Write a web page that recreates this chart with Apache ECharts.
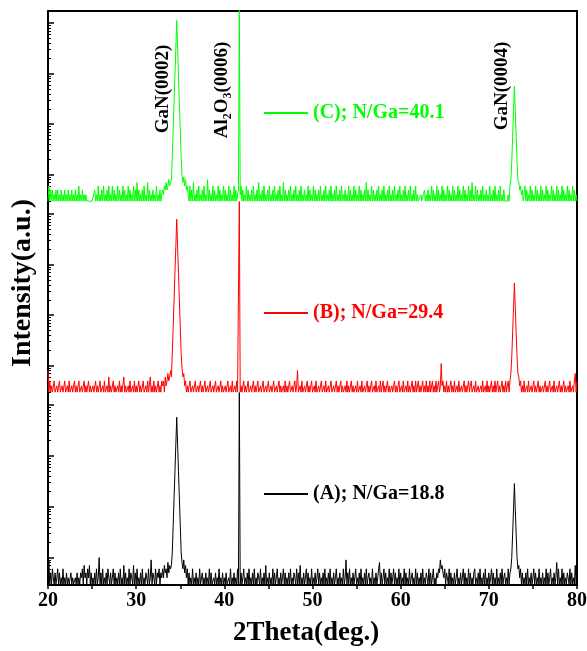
<!DOCTYPE html>
<html>
<head>
<meta charset="utf-8">
<script src="https://cdn.jsdelivr.net/npm/echarts@6/dist/echarts.min.js"></script>
<style>
html, body { margin: 0; padding: 0; background: #fff; }
#chart { width: 587px; height: 651px; }
</style>
</head>
<body>
<div id="chart"></div>
<script>
'use strict';
// 2Theta sampling: 20.0 .. 80.0, step 0.1 deg
const thetaStart = 20;
const thetaStep = 0.1;
const xTicks = [20, 30, 40, 50, 60, 70, 80];

// intensity counts (a.u.), one line = 1 deg
const countsA = [
    5, 9, 3, 5, 3, 6, 4, 3, 5, 3,
    4, 6, 3, 5, 3, 4, 3, 6, 3, 4,
    3, 5, 3, 4, 3, 3, 5, 3, 4, 3,
    3, 4, 3, 5, 3, 4, 3, 5, 4, 6,
    3, 7, 4, 5, 3, 6, 4, 7, 3, 5,
    3, 4, 3, 5, 3, 6, 3, 4, 10, 3,
    5, 3, 6, 3, 4, 3, 5, 3, 6, 4,
    3, 5, 3, 4, 6, 3, 5, 3, 4, 3,
    5, 3, 6, 3, 4, 3, 7, 3, 5, 3,
    4, 3, 6, 3, 5, 4, 3, 7, 3, 5,
    3, 6, 3, 4, 3, 5, 3, 6, 3, 4,
    3, 5, 4, 3, 6, 3, 4, 9, 3, 5,
    4, 3, 6, 3, 5, 4, 6, 3, 5, 4,
    6, 4, 7, 5, 6, 4, 8, 5, 7, 6,
    7, 13, 44, 150, 500, 1700, 5800, 1700, 500, 150,
    44, 13, 8, 6, 9, 5, 7, 4, 6, 3,
    5, 3, 4, 3, 6, 3, 4, 3, 5, 3,
    4, 3, 6, 3, 3, 5, 3, 4, 3, 5,
    3, 4, 3, 6, 3, 5, 3, 3, 4, 3,
    5, 3, 4, 3, 6, 3, 4, 3, 5, 3,
    4, 3, 5, 3, 3, 4, 3, 6, 3, 4,
    3, 5, 3, 4, 3, 6, 3, 20000, 3, 5,
    3, 4, 6, 3, 4, 3, 5, 3, 6, 3,
    4, 3, 5, 3, 6, 3, 4, 3, 5, 4,
    3, 6, 3, 4, 3, 5, 3, 7, 3, 4,
    3, 5, 3, 4, 3, 6, 3, 5, 3, 4,
    6, 3, 4, 3, 5, 3, 4, 6, 3, 5,
    3, 4, 3, 5, 3, 6, 3, 4, 3, 5,
    4, 3, 6, 3, 5, 3, 7, 3, 4, 3,
    5, 3, 4, 6, 3, 5, 3, 4, 3, 6,
    3, 4, 3, 5, 3, 4, 6, 3, 5, 3,
    4, 3, 5, 3, 6, 3, 4, 3, 5, 3,
    6, 3, 4, 3, 5, 3, 4, 6, 3, 4,
    3, 5, 3, 4, 3, 6, 3, 4, 9, 3,
    5, 3, 6, 3, 4, 3, 5, 3, 4, 6,
    3, 4, 3, 5, 3, 6, 3, 4, 3, 5,
    3, 6, 3, 4, 5, 3, 4, 3, 6, 3,
    4, 3, 5, 3, 4, 6, 8, 3, 5, 3,
    4, 6, 3, 5, 3, 4, 3, 6, 3, 5,
    3, 4, 6, 3, 5, 3, 4, 3, 6, 3,
    5, 3, 4, 3, 6, 3, 5, 3, 4, 3,
    6, 3, 4, 5, 3, 4, 3, 6, 3, 5,
    3, 4, 3, 5, 3, 6, 3, 4, 3, 5,
    4, 3, 6, 3, 5, 3, 4, 6, 3, 4,
    3, 5, 4, 6, 5, 9, 6, 7, 5, 4,
    6, 3, 5, 4, 3, 6, 3, 5, 3, 4,
    3, 5, 3, 4, 6, 3, 4, 3, 5, 3,
    4, 6, 3, 5, 3, 4, 3, 6, 3, 5,
    3, 4, 3, 5, 6, 3, 4, 3, 5, 3,
    6, 3, 4, 3, 5, 3, 6, 3, 4, 3,
    5, 3, 4, 6, 3, 5, 3, 4, 3, 6,
    3, 4, 3, 5, 3, 6, 3, 4, 5, 3,
    4, 3, 6, 3, 5, 6, 10, 29, 90, 286,
    90, 29, 10, 6, 7, 4, 6, 3, 5, 3,
    4, 3, 5, 3, 6, 3, 4, 3, 5, 3,
    4, 6, 3, 5, 3, 4, 3, 6, 3, 4,
    3, 5, 3, 4, 3, 6, 3, 5, 3, 4,
    6, 3, 4, 3, 5, 3, 4, 8, 3, 6,
    3, 4, 3, 6, 3, 5, 3, 4, 3, 5,
    4, 3, 6, 3, 5, 3, 4, 3, 7, 3,
    6
];
const countsB = [
    8, 3, 5, 3, 4, 3, 3, 5, 3, 3,
    4, 3, 3, 5, 3, 3, 4, 3, 3, 5,
    3, 3, 4, 3, 5, 3, 3, 4, 3, 3,
    5, 3, 4, 3, 3, 5, 3, 3, 4, 3,
    3, 5, 3, 4, 3, 3, 5, 3, 4, 3,
    3, 4, 3, 3, 5, 3, 4, 3, 3, 5,
    3, 3, 4, 3, 5, 3, 3, 4, 3, 6,
    3, 4, 3, 3, 5, 3, 4, 3, 3, 4,
    3, 5, 3, 4, 3, 3, 6, 3, 4, 3,
    3, 4, 3, 5, 3, 3, 4, 3, 5, 3,
    4, 3, 3, 5, 3, 4, 3, 3, 5, 3,
    3, 4, 3, 5, 3, 3, 6, 3, 4, 3,
    5, 3, 4, 3, 3, 5, 3, 4, 3, 5,
    4, 5, 3, 6, 4, 5, 7, 5, 6, 8,
    6, 18, 60, 200, 700, 2300, 7950, 2300, 700, 200,
    60, 18, 9, 6, 7, 4, 5, 3, 4, 3,
    3, 5, 3, 3, 4, 3, 3, 5, 3, 3,
    4, 3, 3, 5, 3, 4, 3, 3, 5, 3,
    3, 4, 3, 3, 5, 3, 3, 4, 3, 3,
    5, 3, 3, 4, 3, 3, 5, 3, 4, 3,
    3, 4, 3, 3, 5, 3, 3, 4, 3, 5,
    3, 3, 4, 3, 5, 3, 3, 20000, 3, 4,
    3, 3, 5, 3, 4, 3, 3, 5, 3, 3,
    4, 3, 3, 5, 3, 4, 3, 3, 5, 3,
    3, 4, 3, 3, 5, 3, 3, 4, 3, 3,
    5, 3, 3, 4, 3, 3, 5, 3, 3, 4,
    3, 3, 5, 3, 4, 3, 3, 4, 3, 5,
    3, 4, 3, 3, 5, 3, 3, 4, 3, 3,
    5, 3, 4, 8, 3, 3, 4, 3, 5, 3,
    3, 4, 3, 3, 5, 3, 4, 3, 3, 5,
    3, 3, 4, 3, 5, 3, 3, 4, 3, 3,
    5, 3, 3, 4, 3, 5, 3, 3, 4, 3,
    3, 5, 3, 3, 4, 3, 3, 5, 3, 4,
    3, 3, 5, 3, 4, 3, 3, 4, 3, 5,
    3, 4, 3, 3, 5, 3, 4, 3, 3, 4,
    3, 5, 3, 3, 4, 3, 5, 3, 3, 4,
    3, 3, 5, 3, 4, 3, 3, 5, 3, 3,
    4, 3, 5, 3, 3, 4, 3, 5, 3, 3,
    5, 3, 4, 3, 3, 5, 3, 4, 3, 3,
    4, 3, 3, 5, 3, 4, 3, 3, 5, 3,
    3, 4, 3, 5, 3, 3, 4, 3, 5, 3,
    4, 3, 3, 5, 3, 4, 3, 5, 3, 3,
    5, 3, 4, 3, 3, 5, 3, 4, 3, 5,
    3, 4, 3, 5, 3, 3, 5, 3, 4, 3,
    5, 3, 4, 5, 3, 4, 11, 4, 5, 3,
    4, 3, 5, 3, 4, 3, 3, 5, 3, 4,
    3, 5, 3, 3, 4, 3, 5, 3, 3, 4,
    3, 3, 5, 3, 4, 3, 3, 5, 3, 4,
    5, 3, 3, 4, 3, 5, 3, 3, 4, 3,
    3, 4, 3, 5, 3, 3, 4, 3, 5, 3,
    4, 3, 3, 5, 3, 4, 3, 5, 3, 3,
    5, 3, 4, 3, 3, 5, 3, 4, 3, 5,
    3, 4, 5, 3, 5, 7, 15, 45, 140, 432,
    140, 45, 15, 7, 6, 4, 5, 3, 4, 3,
    5, 3, 3, 4, 3, 5, 3, 3, 4, 3,
    3, 5, 3, 4, 3, 3, 5, 3, 4, 3,
    3, 4, 3, 3, 5, 3, 4, 3, 3, 5,
    3, 3, 4, 3, 5, 3, 3, 4, 3, 3,
    5, 3, 4, 3, 3, 5, 3, 4, 3, 3,
    4, 3, 5, 3, 3, 4, 3, 5, 7, 3,
    5
];
const countsC = [
    3, 6, 3, 5, 3, 5, 3, 4, 3, 5,
    3, 5, 3, 4, 3, 5, 3, 4, 3, 5,
    3, 4, 3, 5, 3, 4, 3, 5, 3, 4,
    3, 5, 3, 4, 3, 6, 3, 4, 3, 5,
    3, 4, 3, 4, 3, 3, 3, 3, 3, 3,
    3, 3, 3, 5, 3, 4, 3, 6, 3, 4,
    3, 5, 3, 6, 3, 4, 3, 5, 3, 6,
    3, 4, 3, 6, 3, 5, 3, 4, 3, 6,
    3, 5, 3, 4, 3, 6, 3, 5, 3, 4,
    3, 6, 3, 5, 3, 4, 3, 6, 3, 5,
    3, 7, 3, 5, 3, 4, 3, 5, 3, 6,
    3, 4, 3, 7, 3, 5, 3, 4, 3, 5,
    3, 4, 3, 6, 3, 4, 3, 5, 3, 4,
    5, 4, 6, 5, 7, 5, 6, 8, 6, 7,
    8, 24, 80, 275, 930, 3200, 11350, 3200, 930, 275,
    80, 24, 10, 7, 9, 6, 8, 5, 6, 4,
    3, 6, 3, 5, 3, 7, 3, 4, 3, 5,
    3, 6, 3, 4, 3, 5, 3, 6, 3, 4,
    3, 8, 3, 5, 3, 4, 3, 6, 3, 5,
    3, 4, 3, 6, 3, 5, 3, 4, 3, 6,
    3, 5, 3, 4, 3, 6, 3, 5, 3, 4,
    3, 6, 3, 5, 3, 4, 5, 20000, 4, 6,
    3, 5, 3, 4, 3, 6, 3, 5, 3, 4,
    3, 5, 3, 6, 3, 4, 3, 5, 3, 7,
    3, 4, 3, 5, 3, 6, 3, 4, 3, 5,
    3, 6, 3, 4, 3, 5, 3, 6, 3, 4,
    3, 5, 3, 6, 3, 4, 3, 7, 3, 5,
    3, 4, 3, 5, 3, 6, 3, 4, 3, 5,
    3, 6, 3, 4, 3, 5, 3, 6, 3, 4,
    3, 5, 3, 4, 3, 6, 3, 5, 3, 4,
    3, 6, 3, 5, 3, 4, 3, 5, 3, 6,
    3, 4, 3, 5, 3, 6, 3, 4, 3, 5,
    3, 6, 3, 4, 3, 5, 3, 6, 3, 4,
    3, 5, 3, 6, 3, 4, 3, 5, 3, 4,
    3, 6, 3, 5, 3, 4, 3, 6, 3, 5,
    3, 4, 3, 6, 3, 5, 3, 4, 3, 5,
    3, 7, 3, 5, 3, 4, 3, 6, 3, 5,
    3, 4, 3, 5, 3, 6, 3, 4, 3, 5,
    3, 6, 3, 4, 3, 5, 3, 6, 3, 4,
    3, 5, 3, 6, 3, 4, 3, 5, 3, 6,
    3, 4, 3, 5, 3, 6, 3, 4, 3, 5,
    3, 6, 3, 4, 3, 5, 3, 6, 3, 4,
    3, 3, 3, 4, 3, 3, 3, 5, 3, 4,
    3, 5, 3, 4, 3, 6, 3, 5, 3, 4,
    3, 6, 3, 5, 3, 4, 3, 6, 3, 5,
    3, 4, 3, 6, 3, 5, 3, 4, 3, 6,
    3, 5, 3, 4, 3, 6, 3, 5, 3, 4,
    3, 6, 3, 5, 3, 4, 3, 6, 3, 5,
    3, 7, 3, 4, 3, 6, 3, 5, 3, 4,
    3, 5, 3, 6, 3, 4, 3, 5, 3, 4,
    3, 6, 3, 4, 3, 5, 3, 6, 3, 4,
    3, 5, 3, 6, 3, 4, 3, 5, 3, 3,
    3, 3, 4, 3, 6, 8, 18, 57, 180, 570,
    180, 57, 18, 8, 7, 5, 6, 4, 5, 3,
    3, 6, 3, 5, 3, 4, 3, 6, 3, 5,
    3, 4, 3, 6, 3, 5, 3, 4, 3, 6,
    3, 5, 3, 4, 3, 6, 3, 5, 3, 4,
    3, 6, 3, 5, 3, 4, 3, 6, 3, 5,
    3, 4, 3, 6, 3, 5, 3, 4, 3, 6,
    3, 5, 3, 4, 3, 6, 3, 5, 3, 4,
    3
];

const seriesNames = ['(C); N/Ga=40.1', '(B); N/Ga=29.4', '(A); N/Ga=18.8'];
const seriesColors = ['#00ff00', '#ff0000', '#000000'];
const seriesCounts = [countsC, countsB, countsA];

// log10 decades shown on each panel
const majorDecades = [1, 2, 3, 4];
const minorFactors = [2, 3, 4, 5, 6, 7, 8, 9];
const logMin = 0.46;
const logMax = 4.24;

const FONT = '"Liberation Serif", "Times New Roman", serif';

function init() {
    const chart = echarts.init(document.getElementById('chart'), null, { renderer: 'canvas' });

    const minorValues = [];
    [0, 1, 2, 3, 4].forEach((d) => {
        minorFactors.forEach((f) => {
            const v = Math.log10(f * Math.pow(10, d));
            if (v > logMin && v < logMax) minorValues.push(v);
        });
    });

    // three stacked panels, no gap; outerBoundsMode off so the "80" label does not shrink the last one
    const grids = [
        { left: 48, right: 10, top: 11, height: 191, outerBoundsMode: 'none' },
        { left: 48, right: 10, top: 202, height: 191, outerBoundsMode: 'none' },
        { left: 48, right: 10, top: 393, height: 192, outerBoundsMode: 'none' },
    ];

    const axisLine = { show: true, lineStyle: { color: '#000', width: 2 } };

    const xAxis = [
        {
            gridIndex: 0, type: 'value', min: 20, max: 80, interval: 10, position: 'top',
            axisLine: axisLine, axisTick: { show: false }, axisLabel: { show: false }, splitLine: { show: false },
        },
        {
            gridIndex: 1, type: 'value', min: 20, max: 80, interval: 10, show: false,
        },
        {
            gridIndex: 2, type: 'value', min: 20, max: 80, interval: 10, position: 'bottom',
            axisLine: axisLine,
            axisTick: { inside: false, length: 4, lineStyle: { color: '#000', width: 1.5 } },
            minorTick: { show: true, splitNumber: 2, length: 4, lineStyle: { color: '#000', width: 1.5 } },
            axisLabel: {
                margin: 6, color: '#000', fontSize: 20, fontWeight: 'bold', fontFamily: FONT,
                customValues: xTicks,
            },
            splitLine: { show: false },
        },
    ];

    const yAxis = [];
    grids.forEach((g, i) => {
        // major ticks + axis line
        yAxis.push({
            gridIndex: i, type: 'value', min: logMin, max: logMax, position: 'left',
            axisLine: axisLine,
            axisTick: { inside: true, length: 6, customValues: majorDecades, lineStyle: { color: '#000', width: 1.5 } },
            axisLabel: { show: false }, splitLine: { show: false },
        });
        // log minor ticks
        yAxis.push({
            gridIndex: i, type: 'value', min: logMin, max: logMax, position: 'left',
            axisLine: { show: false },
            axisTick: { inside: true, length: 3, customValues: minorValues, lineStyle: { color: '#000', width: 1 } },
            axisLabel: { show: false }, splitLine: { show: false },
        });
        // right frame
        yAxis.push({
            gridIndex: i, type: 'value', min: logMin, max: logMax, position: 'right',
            axisLine: axisLine, axisTick: { show: false }, axisLabel: { show: false }, splitLine: { show: false },
        });
    });

    const series = seriesCounts.map((counts, i) => ({
        name: seriesNames[i],
        type: 'line',
        xAxisIndex: i,
        yAxisIndex: i * 3,
        showSymbol: false,
        symbol: 'none',
        clip: true,
        color: seriesColors[i],
        lineStyle: { color: seriesColors[i], width: 1 },
        data: counts.map((c, k) => [+(thetaStart + thetaStep * k).toFixed(1), Math.log10(c)]),
    }));

    // one legend per panel
    const legendTops = [98, 298, 479];
    const legend = seriesNames.map((name, i) => ({
        data: [{ name: name, textStyle: { color: seriesColors[i] } }],
        left: 259,
        top: legendTops[i],
        icon: 'rect',
        itemWidth: 44,
        itemHeight: 2,
        selectedMode: false,
        textStyle: { fontSize: 20, fontWeight: 'bold', fontFamily: FONT },
    }));

    const peakFont = { fontSize: 19, fontWeight: 'bold', fontFamily: FONT, fill: '#000', align: 'center', verticalAlign: 'middle' };

    const option = {
        animation: false,
        backgroundColor: '#fff',
        grid: grids,
        xAxis: xAxis,
        yAxis: yAxis,
        legend: legend,
        series: series,
        graphic: [
            {
                type: 'text', x: 163, y: 89, rotation: Math.PI / 2,
                style: Object.assign({ text: 'GaN(0002)' }, peakFont),
            },
            {
                type: 'text', x: 222, y: 90, rotation: Math.PI / 2,
                style: {
                    text: '{m|Al}{s|2}{m|O}{s|3}{m|(0006)}',
                    align: 'center', verticalAlign: 'middle', fill: '#000',
                    rich: {
                        m: { fontSize: 19, fontWeight: 'bold', fontFamily: FONT, lineHeight: 24, fill: '#000' },
                        s: { fontSize: 12, fontWeight: 'bold', fontFamily: FONT, verticalAlign: 'bottom', fill: '#000' },
                    },
                },
            },
            {
                type: 'text', x: 502, y: 86, rotation: Math.PI / 2,
                style: Object.assign({ text: 'GaN(0004)' }, peakFont),
            },
            {
                type: 'text', x: 306, y: 633,
                style: { text: '2Theta(deg.)', fontSize: 27, fontWeight: 'bold', fontFamily: FONT, fill: '#000', align: 'center', verticalAlign: 'middle' },
            },
            {
                type: 'text', x: 23, y: 283, rotation: Math.PI / 2,
                style: { text: 'Intensity(a.u.)', fontSize: 28, fontWeight: 'bold', fontFamily: FONT, fill: '#000', align: 'center', verticalAlign: 'middle' },
            },
        ],
    };

    chart.setOption(option);
}

(function () {
    init();
})();
</script>
</body>
</html>
